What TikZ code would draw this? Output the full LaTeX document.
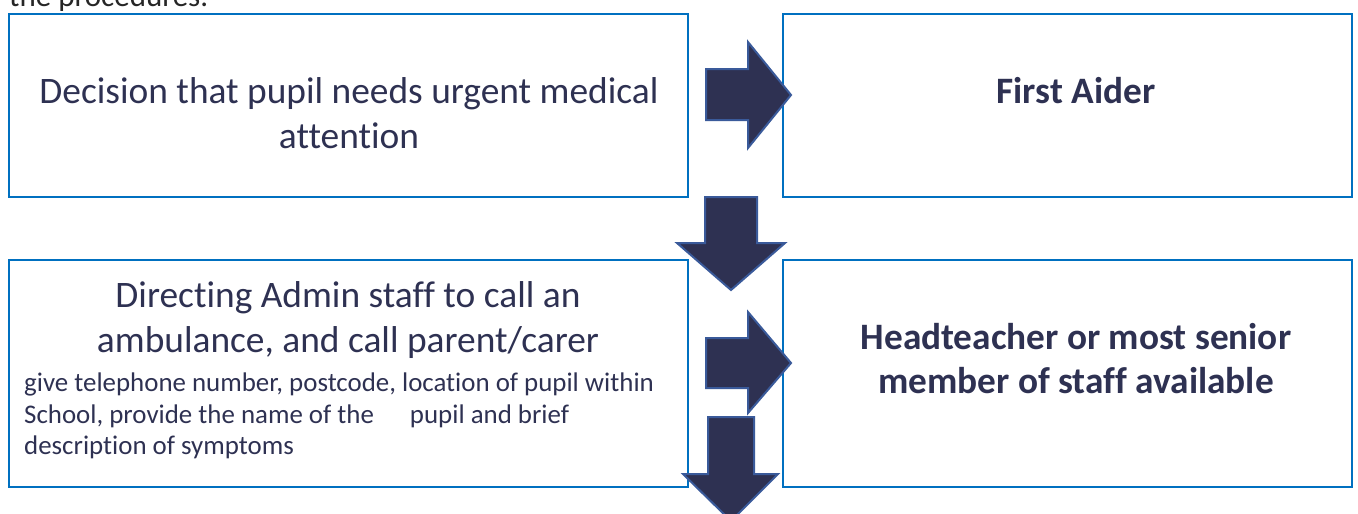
\documentclass[tikz,border=0pt]{standalone}
\usepackage{fontspec}
\setmainfont{Carlito}[Ligatures={NoCommon}]
\definecolor{boxblue}{HTML}{0070C0}
\definecolor{navy}{HTML}{2E3152}
\definecolor{arrowline}{HTML}{3A5A9A}
\definecolor{txt}{HTML}{2E3152}
\tikzset{
  flowbox/.style={draw=boxblue, line width=2pt},
  bigarrow/.style={fill=navy, draw=arrowline, line width=2pt, line join=miter},
  bigtext/.style={font=\fontsize{37.4}{45}\selectfont, text=txt, align=center, inner sep=0pt},
  boldtext/.style={font=\fontsize{37.3}{44}\selectfont\bfseries, text=txt, align=center, inner sep=0pt},
  smalltext/.style={font=\fontsize{26.9}{31.5}\selectfont, text=txt, align=left, inner sep=0pt}
}
\begin{document}
\begin{tikzpicture}[x=1pt,y=-1pt]
\useasboundingbox (0,0) rectangle (1358,514);
% partial header text
\node[anchor=base west, inner sep=0pt, font=\fontsize{31}{36}\selectfont, text=black!85] (hdr) at (9,6) {the procedures.};
% boxes
\draw[flowbox] (9,14) rectangle (688,197);
\draw[flowbox] (783,14) rectangle (1352,197);
\draw[flowbox] (9,260) rectangle (688,487);
\draw[flowbox] (783,260) rectangle (1352,487);
% texts
\node[bigtext] (t1) at (349,113) {Decision that pupil needs urgent medical\\attention};
\node[boldtext] (t2) at (1076,91) {First Aider};
\node[bigtext] (t3) at (348,320) {Directing Admin staff to call an\\ambulance, and call parent/carer};
\node[smalltext, anchor=north west] (t4) at (24,373) {give telephone number, postcode, location of pupil within\\School, provide the name of the\hspace{36pt}pupil and brief\\description of symptoms};
\node[boldtext] (t5) at (1076,359) {Headteacher or most senior\\member of staff available};
% arrows
\draw[bigarrow] (706,69) -- (748,69) -- (748,42) -- (791,95) -- (748,148) -- (748,120) -- (706,120) -- cycle;
\draw[bigarrow] (705,197) -- (757,197) -- (757,243) -- (785,243) -- (731,290) -- (677,243) -- (705,243) -- cycle;
\draw[bigarrow] (706,338) -- (748,338) -- (748,312) -- (791,363) -- (748,413) -- (748,388) -- (706,388) -- cycle;
\draw[bigarrow] (708,417) -- (754,417) -- (754,474) -- (778,474) -- (731,521) -- (683,474) -- (708,474) -- cycle;
\end{tikzpicture}
\end{document}
